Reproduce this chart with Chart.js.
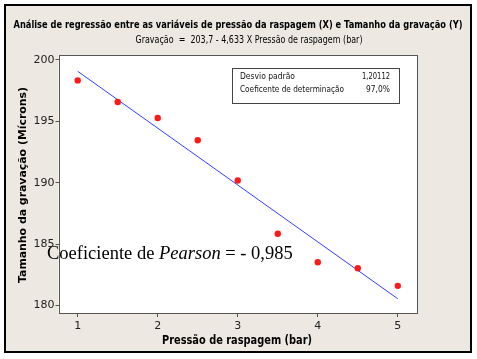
<!DOCTYPE html>
<html>
<head>
<meta charset="utf-8">
<script src="https://cdn.jsdelivr.net/npm/chart.js@4"></script>
<style>
body { margin: 0; background: #fff; }
canvas { display: block; }
</style>
</head>
<body>
<canvas id="myChart" width="477" height="359"></canvas>
<script>
// pressao de raspagem (bar) x tamanho da gravacao (microns)
var pressao = [1, 1.5, 2, 2.5, 3, 3.5, 4, 4.5, 5];
var gravacao = [198.33, 196.57, 195.27, 193.46, 190.18, 185.84, 183.51, 183.02, 181.59];
var retaX = [1, 5];
var retaY = [199.07, 180.54];
var xTicks = [1, 2, 3, 4, 5];
var yTicks = [180, 185, 190, 195, 200];

var titulo = 'Análise de regressão entre as variáveis de pressão da raspagem (X) e Tamanho da gravação (Y)';
var subtitulo = 'Gravação  =  203,7 - 4,633 X Pressão de raspagem (bar)';
var tituloX = 'Pressão de raspagem (bar)';
var tituloY = 'Tamanho da gravação (Mícrons)';
var estatNomes = ['Desvio padrão', 'Coeficente de determinação'];
var estatValores = ['1,20112', '97,0%'];
var pearson = ['Coeficiente de ', 'Pearson', ' = - 0,985'];

var ctx = document.getElementById('myChart').getContext('2d');

var pontos = [];
for (var i = 0; i < pressao.length; i++) pontos.push({x: pressao[i], y: gravacao[i]});
var reta = [];
for (var j = 0; j < retaX.length; j++) reta.push({x: retaX[j], y: retaY[j]});

var fundo = {
    id: 'fundo',
    beforeDraw: function(chart) {
        var c = chart.ctx, a = chart.chartArea;
        c.save();
        c.fillStyle = '#ffffff';
        c.fillRect(0, 0, chart.width, chart.height);
        c.fillStyle = '#ede9e2';
        c.fillRect(4, 4, 468, 349);
        c.strokeStyle = '#000';
        c.lineWidth = 2;
        c.strokeRect(5, 5, 466, 347);
        c.fillStyle = '#ffffff';
        c.fillRect(a.left, a.top, a.right - a.left, a.bottom - a.top);
        c.restore();
    },
    afterDraw: function(chart) {
        var c = chart.ctx, a = chart.chartArea;
        c.save();
        // moldura do grafico
        c.strokeStyle = '#555';
        c.lineWidth = 1;
        c.strokeRect(Math.round(a.left) + 0.5, Math.round(a.top) + 0.5, Math.round(a.right - a.left) - 1, Math.round(a.bottom - a.top));

        c.fillStyle = '#000';
        c.textAlign = 'center';
        c.textBaseline = 'middle';
        c.font = 'bold 11px "DejaVu Sans"';
        c.fillText(titulo, 238, 25, 449);
        c.font = '10px "DejaVu Sans"';
        c.fillText(subtitulo, 249, 40, 227);
        c.font = 'bold 12px "DejaVu Sans"';
        c.fillText(tituloX, 237, 341, 150);
        c.save();
        c.translate(23, 185);
        c.rotate(-Math.PI / 2);
        c.font = 'bold 11px "DejaVu Sans"';
        c.fillText(tituloY, 0, 0, 196);
        c.restore();

        // caixa de estatisticas
        c.fillStyle = '#fff';
        c.fillRect(232, 68, 167, 35);
        c.strokeStyle = '#444';
        c.strokeRect(232.5, 68.5, 167, 35);
        c.fillStyle = '#111';
        c.font = '9.5px "DejaVu Sans"';
        c.textBaseline = 'alphabetic';
        c.textAlign = 'left';
        c.fillText(estatNomes[0], 240, 79, 55);
        c.fillText(estatNomes[1], 240, 92, 104);
        c.textAlign = 'right';
        c.fillText(estatValores[0], 390, 79, 28);
        c.fillText(estatValores[1], 390, 92, 24);

        // coeficiente de Pearson
        c.fillStyle = '#000';
        c.textAlign = 'left';
        var x = 47;
        c.font = '18.5px "Liberation Serif"';
        c.fillText(pearson[0], x, 259);
        x += c.measureText(pearson[0]).width;
        c.font = 'italic 18.5px "Liberation Serif"';
        c.fillText(pearson[1], x, 259);
        x += c.measureText(pearson[1]).width;
        c.font = '18.5px "Liberation Serif"';
        c.fillText(pearson[2], x, 259);
        c.restore();
    }
};

var myChart = new Chart(ctx, {
    type: 'scatter',
    data: {
        datasets: [{
            label: 'Gravação',
            data: pontos,
            backgroundColor: '#ff1a1a',
            borderWidth: 0,
            pointRadius: 3.2,
            pointHoverRadius: 3.2
        }, {
            type: 'line',
            label: 'Reta',
            data: reta,
            borderColor: '#3040ff',
            borderWidth: 1,
            pointRadius: 0,
            fill: false
        }]
    },
    options: {
        responsive: false,
        animation: false,
        devicePixelRatio: 1,
        layout: { padding: { top: 55, right: 60, left: 0, bottom: 0 } },
        plugins: { legend: { display: false }, tooltip: { enabled: false } },
        scales: {
            x: {
                type: 'linear',
                min: 0.76,
                max: 5.24,
                afterFit: function(s) { s.height = 46; },
                afterBuildTicks: function(s) { s.ticks = xTicks.map(function(v){ return {value: v}; }); },
                grid: { drawOnChartArea: false, drawTicks: true, tickLength: 4, color: '#555' },
                border: { display: false },
                ticks: { color: '#222', font: { family: 'DejaVu Sans', size: 11 }, padding: 3, maxRotation: 0 }
            },
            y: {
                type: 'linear',
                min: 179.38,
                max: 200.4,
                afterFit: function(s) { s.width = 58.5; },
                afterBuildTicks: function(s) { s.ticks = yTicks.map(function(v){ return {value: v}; }); },
                grid: { drawOnChartArea: false, drawTicks: true, tickLength: 3, color: '#555' },
                border: { display: false },
                ticks: { color: '#222', font: { family: 'DejaVu Sans', size: 11 }, padding: 1 }
            }
        }
    },
    plugins: [fundo]
});
</script>
</body>
</html>
